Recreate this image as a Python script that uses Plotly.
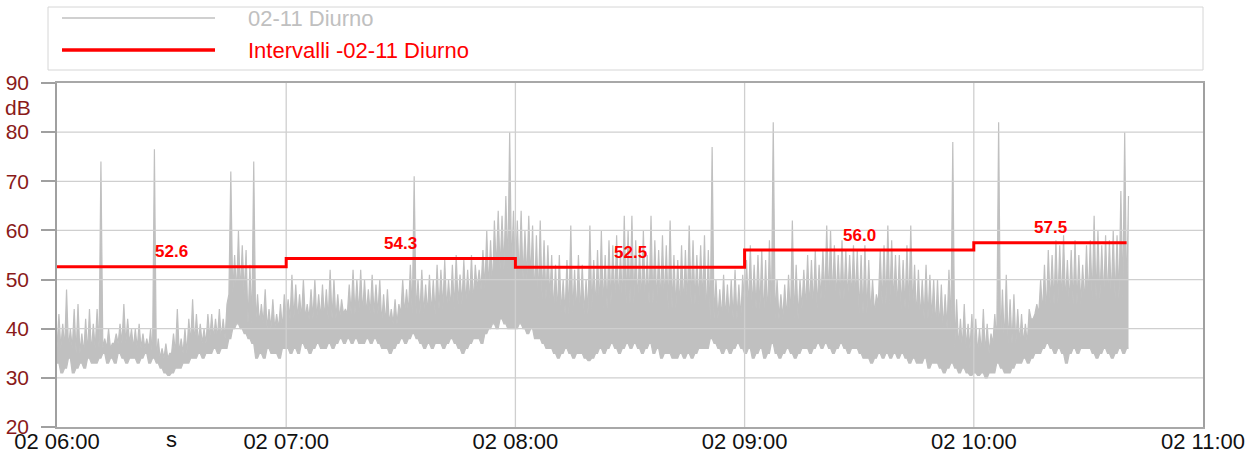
import pandas as pd
import plotly.graph_objects as go

# ---------------- data ----------------
start_time = "2023-11-02 06:00"          # one reading group per minute
# per-minute lowest level of the 02-11 Diurno trace (dB)
level_low = [
    33, 31, 32, 34, 31, 32, 33, 32, 34, 33,
    33, 34, 35, 33, 34, 33, 35, 34, 33, 34,
    34, 33, 34, 35, 33, 34, 33, 32, 31, 30.5,
    31, 32, 32, 33, 33, 34, 34, 35, 34, 35,
    35, 36, 35, 36, 36, 38, 40, 41, 40, 39,
    38, 37, 34, 35, 34, 36, 35, 35, 34, 36,
    36, 35, 36, 35, 37, 36, 35, 36, 37, 36,
    36, 37, 36, 37, 38, 37, 38, 37, 38, 37,
    37, 38, 37, 38, 37, 36, 36, 35, 36, 37,
    38, 37, 38, 39, 38, 37, 36, 37, 36, 37,
    37, 36, 37, 38, 37, 36, 35, 36, 37, 38,
    38, 37, 39, 40, 41, 40, 42, 41, 40, 40,
    40, 41, 40, 39, 40, 38, 38, 37, 36, 36,
    35, 34, 35, 36, 35, 34, 35, 35, 34, 33.5,
    34, 35, 36, 35, 36, 37, 36, 35, 36, 37,
    36, 37, 36, 35, 36, 37, 35, 36, 34, 35,
    35, 34, 34, 35, 34, 35, 34, 35, 36, 36,
    36, 38, 37, 36, 35, 36, 35, 36, 37, 36,
    35, 36, 34, 35, 36, 34, 35, 37, 35, 34,
    35, 36, 35, 34, 35, 36, 36, 35, 36, 37,
    36, 37, 36, 35, 36, 37, 36, 35, 36, 36,
    35, 34, 34, 33, 34, 35, 34, 35, 34, 35,
    34, 35, 34, 33, 34, 33, 33, 34, 32, 33,
    33, 32, 31, 32, 33, 32, 31, 32, 31, 30.5,
    31, 30.5, 31, 30, 31, 31, 33, 32, 31, 31,
    32, 33, 33, 34, 33, 34, 35, 35, 36, 37,
    36, 35, 36, 35, 33, 35, 36, 35, 36, 36,
    36, 35, 34, 35, 36, 35, 34, 35, 36, 35, 36,
]
# per-minute highest level (dB)
level_high = [
    43, 41, 48, 40, 44, 45, 39, 42, 44, 41,
    44, 74, 38, 40, 37, 39, 41, 45, 42, 40,
    40, 41, 39, 38, 40, 76.5, 38, 36, 37, 35,
    39, 44, 38, 40, 42, 46, 43, 41, 40, 43,
    43, 42, 44, 42, 45, 72, 55, 60, 57, 56,
    53, 74, 47, 45, 48, 44, 46, 43, 45, 47,
    46, 51, 49, 47, 50, 45, 48, 50, 47, 49,
    48, 52, 50, 47, 46, 44, 49, 52, 50, 52,
    50, 48, 51, 49, 50, 47, 48, 44, 46, 45,
    50, 48, 53, 71, 50, 52, 49, 51, 50, 53,
    52, 54, 50, 53, 55, 51, 54, 52, 55, 53,
    52, 56, 60, 58, 62, 64, 63, 67, 80, 64,
    62, 64, 60, 63, 61, 59, 62, 58, 57, 55,
    53, 55, 50, 54, 61, 52, 55, 53, 50, 61,
    54, 56, 60, 55, 58, 57, 59, 56, 63, 60,
    63, 58, 56, 60, 55, 63, 58, 56, 59, 57,
    62, 55, 54, 57, 56, 61, 58, 55, 57, 59,
    56, 77, 50, 48, 51, 49, 50, 52, 49, 51,
    54, 57, 53, 55, 56, 54, 58, 82, 50, 47,
    49, 51, 62, 53, 50, 52, 55, 54, 56, 53,
    56, 61, 60, 57, 55, 58, 56, 55, 57, 56,
    55, 57, 54, 50, 47, 56, 57, 61, 58, 55,
    55, 54, 57, 61, 53, 52, 50, 53, 51, 50,
    50, 49, 47, 52, 78, 46, 42, 45, 41, 43,
    42, 40, 44, 41, 39, 43, 82, 48, 51, 46,
    47, 44, 43, 41, 44, 42, 45, 50, 53, 56,
    55, 58, 57, 59, 54, 56, 58, 55, 53, 57,
    58, 63, 60, 57, 59, 58, 60, 59, 68, 80, 67,
]
# level reached most of the time, per 5-minute block (dB)
level_core = [
    36, 35, 36, 37, 36, 34, 35, 37, 38, 47,
    41, 40, 42, 42, 42, 43, 43, 41, 43, 43,
    44, 45, 48, 52, 50, 46, 43, 43, 44, 45,
    45, 45, 44, 45, 42, 42, 44, 42, 42, 44,
    46, 46, 43, 45, 44, 42, 40, 36, 35, 37,
    37, 43, 45, 45, 46, 46, 46,
]
# interval (hourly) equivalent levels
interval_start = ["2023-11-02 06:00", "2023-11-02 07:00", "2023-11-02 08:00",
                  "2023-11-02 09:00", "2023-11-02 10:00"]
interval_end = "2023-11-02 10:40"
interval_level = [52.6, 54.3, 52.5, 56.0, 57.5]

hour_ticks = ["2023-11-02 06:00", "2023-11-02 07:00", "2023-11-02 08:00",
              "2023-11-02 09:00", "2023-11-02 10:00", "2023-11-02 11:00"]
y_ticks = [20, 30, 40, 50, 60, 70, 80, 90]

name_trace = "02-11 Diurno"
name_interval = "Intervalli -02-11 Diurno"

# ---------------- build ----------------
t0 = pd.Timestamp(start_time)
low_x, low_y, top_x, top_y = [], [], [], []
for i, (lo, hi) in enumerate(zip(level_low, level_high)):
    valley = max(lo, min(level_core[i // 5], hi))
    t_a = t0 + pd.Timedelta(minutes=i)
    t_b = t0 + pd.Timedelta(minutes=i + 0.5)
    low_x += [t_a, t_b]
    low_y += [lo, lo]
    top_x += [t_a, t_b]
    top_y += [valley, hi]

GRAY = "#C0C0C0"
RED = "#FF0000"
GRID = "#CFCFCF"
TICKRED = "#8A1A1A"
FONT = "Arial"

fig = go.Figure()
fig.add_trace(go.Scatter(x=low_x, y=low_y, mode="lines",
                         line=dict(color=GRAY, width=1.2, simplify=False),
                         showlegend=False, hoverinfo="skip"))
fig.add_trace(go.Scatter(x=top_x, y=top_y, mode="lines", name=name_trace,
                         line=dict(color=GRAY, width=1.2, simplify=False),
                         fill="tonexty", fillcolor=GRAY,
                         showlegend=False, hoverinfo="skip"))

# grid drawn above the data trace (as in the reference)
gx, gy = [], []
x_lo, x_hi = hour_ticks[0], hour_ticks[-1]
for yv in y_ticks[1:-1]:
    gx += [x_lo, x_hi, None]
    gy += [yv, yv, None]
for hv in hour_ticks[1:-1]:
    gx += [hv, hv, None]
    gy += [y_ticks[0], y_ticks[-1], None]
fig.add_trace(go.Scatter(x=gx, y=gy, mode="lines", line=dict(color=GRID, width=1.3),
                         showlegend=False, hoverinfo="skip"))

step_x = [pd.Timestamp(s) for s in interval_start] + [pd.Timestamp(interval_end)]
step_y = interval_level + [interval_level[-1]]
fig.add_trace(go.Scatter(x=step_x, y=step_y, mode="lines", name=name_interval,
                         line=dict(color=RED, width=3, shape="hv"), showlegend=False))

ann = []
for k, lv in enumerate(interval_level):
    a = step_x[k]
    b = step_x[k + 1]
    mid = a + (b - a) / 2
    ann.append(dict(x=mid, y=lv, xref="x", yref="y", text=f"<b>{lv:.1f}</b>",
                    showarrow=False, yshift=15,
                    font=dict(family=FONT, size=17, color=RED)))

# axis unit and odd extra tick text
ann.append(dict(x=-0.021, y=0.930, xref="paper", yref="paper", text="dB",
                showarrow=False, xanchor="right", yanchor="middle",
                font=dict(family=FONT, size=21, color=TICKRED)))
ann.append(dict(x=pd.Timestamp("2023-11-02 06:30"), y=-0.036, xref="x", yref="paper",
                text="s", showarrow=False, yanchor="middle",
                font=dict(family=FONT, size=22, color="#111111")))

# manual legend (box above the plot)
W, H = 1259, 455
L, R, T, B = 57, 56, 83, 28
pw, ph = W - L - R, H - T - B
def px(x):
    return (x - L) / pw
def py(y):
    return (H - B - y) / ph

shapes = [
    dict(type="rect", xref="paper", yref="paper", x0=px(48), x1=px(1203),
         y0=py(70), y1=py(7), line=dict(color="#D6D6D6", width=1), fillcolor="white"),
    dict(type="line", xref="paper", yref="paper", x0=px(62), x1=px(215),
         y0=py(18), y1=py(18), line=dict(color=GRAY, width=1.5)),
    dict(type="line", xref="paper", yref="paper", x0=px(62), x1=px(215),
         y0=py(50), y1=py(50), line=dict(color=RED, width=3.5)),
]
ann.append(dict(x=px(246), y=py(18), xref="paper", yref="paper", text=name_trace,
                showarrow=False, xanchor="left", yanchor="middle",
                font=dict(family=FONT, size=22, color=GRAY)))
ann.append(dict(x=px(246), y=py(50), xref="paper", yref="paper", text=name_interval,
                showarrow=False, xanchor="left", yanchor="middle",
                font=dict(family=FONT, size=22, color=RED)))

fig.update_layout(
    width=W, height=H,
    margin=dict(l=L, r=R, t=T, b=B, pad=0, autoexpand=False),
    paper_bgcolor="white", plot_bgcolor="white",
    showlegend=False,
    annotations=ann, shapes=shapes,
    xaxis=dict(range=[hour_ticks[0], hour_ticks[-1]], tickvals=hour_ticks,
               tickformat="%d %H:%M", showgrid=False, zeroline=False, automargin=False,
               showline=True, linecolor="#A8A8A8", linewidth=1.5, mirror=True,
               ticks="", ticklabelstandoff=-6,
               tickfont=dict(family=FONT, size=22, color="#111111")),
    yaxis=dict(range=[y_ticks[0], y_ticks[-1]], tickvals=y_ticks, showgrid=False,
               zeroline=False, automargin=False, showline=True, linecolor="#A0A0A0",
               linewidth=1.5, mirror=True, ticks="outside", ticklen=14,
               tickcolor="#A0A0A0", tickwidth=1.5, ticklabelstandoff=8,
               tickfont=dict(family=FONT, size=21, color=TICKRED)),
)

fig.write_html("out.html", config={"displayModeBar": False},
               post_script="document.body.style.margin='0';document.body.style.overflow='hidden';")
